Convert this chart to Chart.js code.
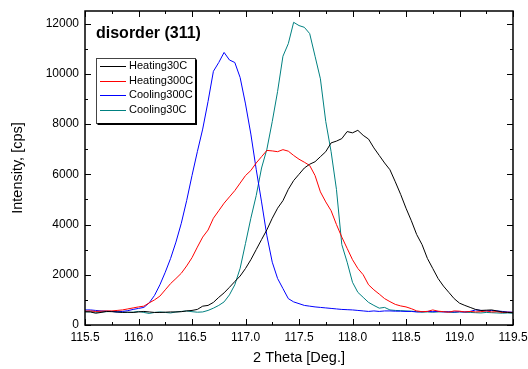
<!DOCTYPE html>
<html>
<head>
<meta charset="utf-8">
<script src="https://cdn.jsdelivr.net/npm/chart.js@4.4.1/dist/chart.umd.min.js"></script>
<style>
  html, body { margin: 0; padding: 0; background: #fff; }
  #wrap { width: 528px; height: 369px; }
</style>
</head>
<body>
<div id="wrap"><canvas id="chart"></canvas></div>
<script>
const angle = [115.50, 115.55, 115.60, 115.65, 115.70, 115.75, 115.80, 115.85, 115.90, 115.95,
  116.00, 116.05, 116.10, 116.15, 116.20, 116.25, 116.30, 116.35, 116.40, 116.45,
  116.50, 116.55, 116.60, 116.65, 116.70, 116.75, 116.80, 116.85, 116.90, 116.95,
  117.00, 117.05, 117.10, 117.15, 117.20, 117.25, 117.30, 117.35, 117.40, 117.45,
  117.50, 117.55, 117.60, 117.65, 117.70, 117.75, 117.80, 117.85, 117.90, 117.95,
  118.00, 118.05, 118.10, 118.15, 118.20, 118.25, 118.30, 118.35, 118.40, 118.45,
  118.50, 118.55, 118.60, 118.65, 118.70, 118.75, 118.80, 118.85, 118.90, 118.95,
  119.00, 119.05, 119.10, 119.15, 119.20, 119.25, 119.30, 119.35, 119.40, 119.45, 119.50];

const heating30C = [530, 520, 470, 500, 540, 530, 520, 500, 510, 500,
  520, 540, 520, 500, 500, 510, 520, 520, 530, 560,
  580, 620, 750, 780, 900, 1100, 1280, 1500, 1730, 1950,
  2250, 2600, 3000, 3400, 3790, 4250, 4650, 4950, 5400, 5750,
  6000, 6250, 6400, 6500, 6700, 6900, 7250, 7320, 7420, 7700,
  7650, 7750, 7550, 7400, 7050, 6750, 6450, 6180, 5700, 5200,
  4650, 4150, 3600, 3200, 2650, 2250, 1850, 1550, 1300, 1050,
  870, 780, 700, 620, 580, 590, 600, 560, 520, 500, 490];

const heating300C = [550, 560, 540, 550, 560, 560, 580, 600, 640, 680,
  720, 750, 880, 1000, 1150, 1400, 1650, 1850, 2060, 2350,
  2680, 3100, 3500, 3780, 4250, 4550, 4850, 5100, 5350, 5650,
  5950, 6150, 6450, 6700, 6950, 6930, 6900, 6980, 6920, 6750,
  6600, 6480, 6350, 5950, 5300, 4900, 4550, 4000, 3500, 3050,
  2600, 2250, 2000, 1600, 1400, 1230, 1050, 930, 820, 760,
  720, 650, 560, 530, 540, 600, 550, 530, 510, 560,
  550, 520, 540, 520, 530, 560, 520, 530, 500, 510, 500];

const cooling300C = [600, 600, 580, 560, 550, 540, 520, 540, 570, 620,
  660, 700, 880, 1180, 1600, 2100, 2650, 3300, 4050, 4950,
  5950, 6900, 7800, 8900, 10100, 10450, 10850, 10550, 10450, 9850,
  8800, 7600, 6200, 4900, 3550, 2500, 1850, 1450, 1050, 920,
  850, 780, 750, 720, 700, 680, 660, 640, 620, 610,
  600, 580, 560, 540, 560, 540, 560, 560, 550, 550,
  540, 540, 520, 530, 540, 530, 540, 520, 530, 520,
  530, 520, 540, 600, 580, 560, 580, 560, 540, 520, 510];

const cooling30C = [520, 530, 510, 520, 530, 540, 520, 510, 500, 510,
  540, 500, 460, 500, 520, 500, 480, 520, 540, 560,
  530, 510, 520, 580, 670, 780, 920, 1200, 1600, 2260,
  3250, 4250, 5150, 6250, 7000, 8100, 9300, 10700, 11200, 12050,
  11920, 11850, 11600, 10700, 9800, 8100, 6900, 5400, 3200, 2500,
  1700, 1300, 1100, 900, 780, 670, 700, 600, 580, 570,
  560, 550, 530, 510, 520, 510, 520, 530, 510, 500,
  520, 510, 500, 490, 480, 500, 490, 480, 470, 480, 470];

const seriesNames = ['Heating30C', 'Heating300C', 'Cooling300C', 'Cooling30C'];
const seriesColors = ['#000000', '#ff0000', '#0000ff', '#008080'];
const xTicks = [115.5, 116.0, 116.5, 117.0, 117.5, 118.0, 118.5, 119.0, 119.5];
const yTicks = [0, 2000, 4000, 6000, 8000, 10000, 12000];
const panelTitle = 'disorder (311)';

const allSeries = [heating30C, heating300C, cooling300C, cooling30C];

function pts(vals) {
  return vals.map((v, i) => ({x: angle[i], y: v}));
}

// frame, inward ticks, labels, titles and boxed legend
const originFrame = {
  id: 'originFrame',
  afterDraw(chart) {
    const ctx = chart.ctx;
    const a = chart.chartArea;
    const xs = chart.scales.x, ys = chart.scales.y;
    ctx.save();
    ctx.strokeStyle = '#000';
    ctx.lineWidth = 1.5;
    ctx.strokeRect(a.left, a.top, a.right - a.left, a.bottom - a.top);

    ctx.lineWidth = 1;
    ctx.beginPath();
    for (let v = 115.5; v <= 119.5 + 1e-6; v += 0.25) {
      const px = Math.round(xs.getPixelForValue(v)) + 0.5;
      const major = Math.abs(v * 2 - Math.round(v * 2)) < 1e-6;
      const len = major ? 6 : 3;
      ctx.moveTo(px, a.bottom); ctx.lineTo(px, a.bottom - len);
      ctx.moveTo(px, a.top); ctx.lineTo(px, a.top + len);
    }
    for (let v = 0; v <= 12000; v += 1000) {
      const py = Math.round(ys.getPixelForValue(v)) + 0.5;
      const len = (v % 2000 === 0) ? 6 : 3;
      ctx.moveTo(a.left, py); ctx.lineTo(a.left + len, py);
      ctx.moveTo(a.right, py); ctx.lineTo(a.right - len, py);
    }
    ctx.stroke();

    ctx.fillStyle = '#000';
    ctx.font = '12px "Liberation Sans", Arial, sans-serif';
    ctx.textAlign = 'center';
    ctx.textBaseline = 'top';
    xTicks.forEach(v => {
      ctx.fillText(v.toFixed(1), xs.getPixelForValue(v), a.bottom + 7);
    });
    ctx.textAlign = 'right';
    ctx.textBaseline = 'middle';
    yTicks.forEach(v => {
      ctx.fillText(String(v), a.left - 6, ys.getPixelForValue(v));
    });

    ctx.font = '14.5px "Liberation Sans", Arial, sans-serif';
    ctx.textAlign = 'center';
    ctx.textBaseline = 'middle';
    ctx.fillText('2 Theta [Deg.]', (a.left + a.right) / 2, 358);
    ctx.save();
    ctx.translate(18, (a.top + a.bottom) / 2);
    ctx.rotate(-Math.PI / 2);
    ctx.fillText('Intensity, [cps]', 0, 0);
    ctx.restore();

    ctx.font = 'bold 16px "Liberation Sans", Arial, sans-serif';
    ctx.textAlign = 'left';
    ctx.fillText(panelTitle, 96, 34);

    // legend
    const lx = 96.5, ly = 58.5, lw = 99, lh = 65;
    ctx.fillStyle = '#fff';
    ctx.fillRect(lx, ly, lw, lh);
    ctx.strokeStyle = '#444';
    ctx.lineWidth = 1;
    ctx.strokeRect(lx, ly, lw, lh);
    ctx.strokeStyle = '#000';
    ctx.lineWidth = 2;
    ctx.beginPath();
    ctx.moveTo(lx + 1, ly + lh + 0.5); ctx.lineTo(lx + lw + 0.5, ly + lh + 0.5); ctx.lineTo(lx + lw + 0.5, ly + 1);
    ctx.stroke();
    ctx.font = '11px "Liberation Sans", Arial, sans-serif';
    ctx.textBaseline = 'middle';
    ctx.lineWidth = 1;
    seriesNames.forEach((name, i) => {
      const y = 66 + i * 14.5;
      ctx.strokeStyle = seriesColors[i];
      ctx.beginPath();
      ctx.moveTo(100, Math.round(y) + 0.5);
      ctx.lineTo(126, Math.round(y) + 0.5);
      ctx.stroke();
      ctx.fillStyle = '#000';
      ctx.fillText(name, 129, y);
    });
    ctx.restore();
  }
};

const ctx = document.getElementById('chart').getContext('2d');
const myChart = new Chart(ctx, {
  type: 'line',
  data: {
    datasets: allSeries.map((s, i) => ({
      label: seriesNames[i],
      data: pts(s),
      borderColor: seriesColors[i],
      borderWidth: 1,
      pointRadius: 0,
      tension: 0,
      fill: false
    }))
  },
  options: {
    responsive: true,
    maintainAspectRatio: false,
    animation: false,
    layout: { padding: { left: 85, right: 15, top: 11, bottom: 44 } },
    plugins: { legend: { display: false }, tooltip: { enabled: false } },
    scales: {
      x: { type: 'linear', min: 115.5, max: 119.5, display: false },
      y: { type: 'linear', min: 0, max: 12500, display: false }
    }
  },
  plugins: [originFrame]
});
</script>
</body>
</html>
